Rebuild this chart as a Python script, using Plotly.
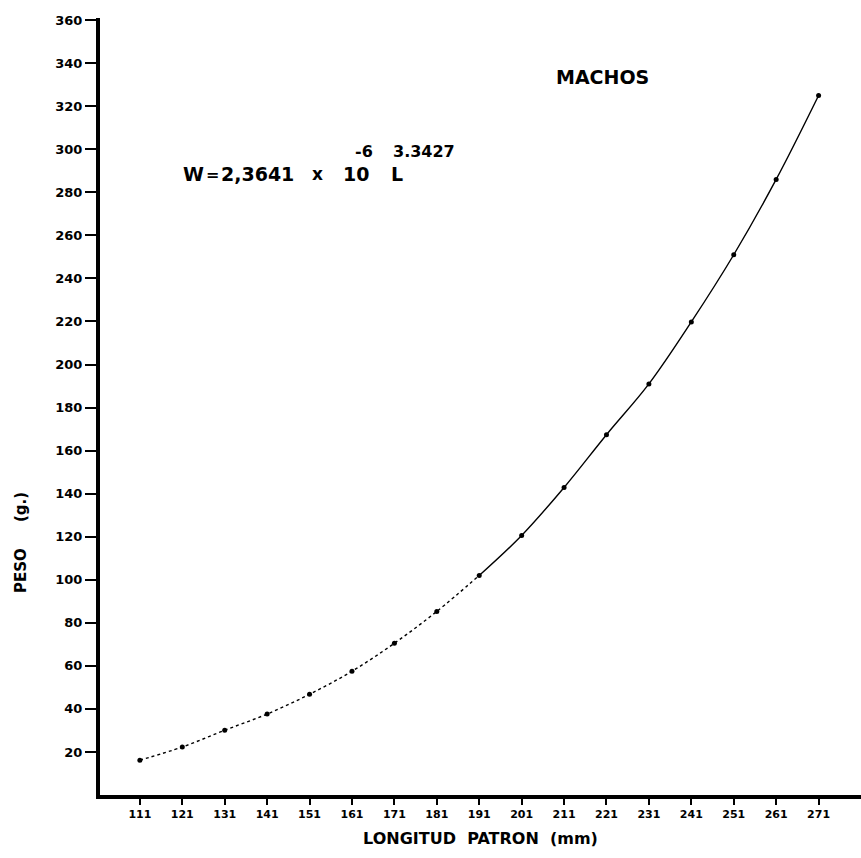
import plotly.graph_objects as go

# Data
longitud = [111, 121, 131, 141, 151, 161, 171, 181, 191, 201, 211, 221, 231, 241, 251, 261, 271]
peso = [16.2, 22.3, 30.1, 37.6, 46.8, 57.5, 70.5, 85.3, 102, 120.6, 142.9, 167.4, 191, 219.8, 251, 286, 325]
x_tick_labels = [str(v) for v in longitud]
y_ticks = list(range(20, 361, 20))

FONT = "DejaVu Sans"
W, H = 861, 858
L_M, R_M, T_M, B_M = 100, 0, 18, 63
PW, PH = W - L_M - R_M, H - T_M - B_M


def px(xp):
    return (xp - L_M) / PW


def py(yp):
    return 1 - (yp - T_M) / PH


def txt(text, x, y, size, xanchor="left", angle=0):
    return dict(text=text, x=px(x), y=py(y), xref="paper", yref="paper",
                xanchor=xanchor, yanchor="middle", showarrow=False,
                textangle=angle,
                font=dict(family=FONT, size=size, weight="bold", color="black"))


fig = go.Figure()

split = 8  # lower section printed faintly (dotted look)
fig.add_trace(go.Scatter(
    x=longitud[:split + 1], y=peso[:split + 1], mode="lines",
    line=dict(color="black", width=1.4, dash="dot", shape="spline"),
    hoverinfo="skip", showlegend=False))
fig.add_trace(go.Scatter(
    x=longitud[split:], y=peso[split:], mode="lines",
    line=dict(color="black", width=1.4, shape="spline"),
    hoverinfo="skip", showlegend=False))
fig.add_trace(go.Scatter(
    x=longitud, y=peso, mode="markers",
    marker=dict(color="black", size=5),
    showlegend=False))

fig.update_layout(
    width=W, height=H,
    margin=dict(l=L_M, r=R_M, t=T_M, b=B_M),
    paper_bgcolor="white", plot_bgcolor="white",
    font=dict(family=FONT, color="black", size=12),
    xaxis=dict(
        range=[101.6, 281], showgrid=False, zeroline=False,
        showline=True, linecolor="black", linewidth=4,
        tickmode="array", tickvals=longitud, ticktext=x_tick_labels,
        ticks="outside", ticklen=6, tickwidth=2, tickcolor="black",
        tickfont=dict(family=FONT, size=11, weight="bold"),
        title=dict(text="LONGITUD&nbsp;&nbsp;PATRON&nbsp;&nbsp;(mm)", standoff=14,
                   font=dict(family=FONT, size=16, weight="bold")),
    ),
    yaxis=dict(
        range=[0, 361], showgrid=False, zeroline=False,
        showline=True, linecolor="black", linewidth=4,
        tickmode="array", tickvals=y_ticks,
        ticks="outside", ticklen=11, tickwidth=2, tickcolor="black",
        tickfont=dict(family=FONT, size=13, weight="bold"),
    ),
    annotations=[
        txt("MACHOS", 602, 77, 19, xanchor="center"),
        txt("W", 181, 174, 19),
        txt("=", 204, 174, 16),
        txt("2,3641", 219, 174, 19),
        txt("x", 310, 174, 17),
        txt("10", 341, 174, 19),
        txt("L", 389, 174, 19),
        txt("-6", 353, 152, 16),
        txt("3.3427", 391, 152, 16),
        txt("PESO&nbsp;&nbsp;&nbsp;&nbsp;&nbsp;(g.)", 21, 543, 15,
            xanchor="center", angle=-90),
    ],
)

fig.write_html("out.html")
